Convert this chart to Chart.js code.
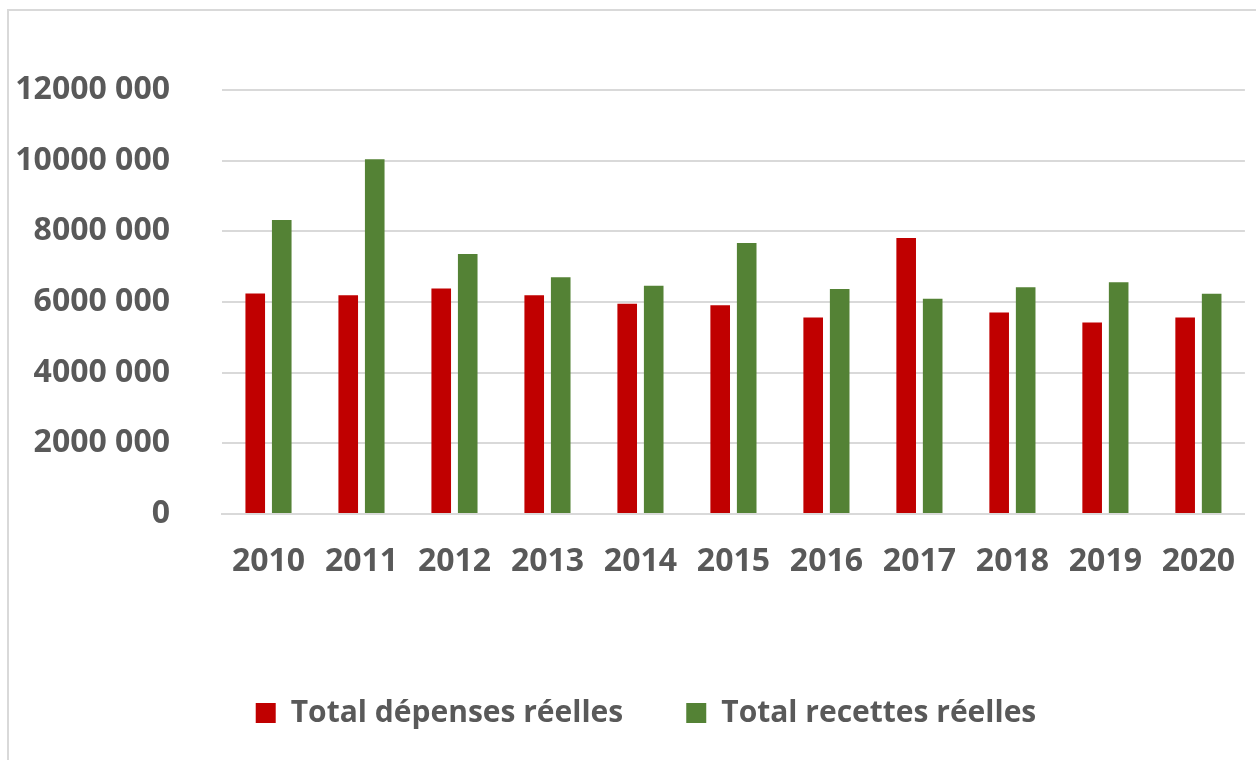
<!DOCTYPE html>
<html>
<head>
<meta charset="utf-8">
<script src="https://cdn.jsdelivr.net/npm/chart.js@4"></script>
<style>
  html, body { margin: 0; padding: 0; background: #fff; overflow: hidden; }
  #cadre {
    position: absolute; left: 7px; top: 9px; width: 1400px; height: 900px;
    border: 2px solid #d9d9d9; box-sizing: border-box;
  }
  #zone { position: absolute; left: 0; top: 0; width: 1256px; height: 760px; }
</style>
</head>
<body>
<div id="cadre"></div>
<div id="zone"><canvas id="graphique" width="1256" height="760"></canvas></div>
<script>
const annees = ["2010", "2011", "2012", "2013", "2014", "2015", "2016", "2017", "2018", "2019", "2020"];
const depensesReelles = [6240000, 6190000, 6380000, 6190000, 5950000, 5910000, 5560000, 7810000, 5700000, 5420000, 5560000];
const recettesReelles = [8320000, 10040000, 7360000, 6700000, 6460000, 7670000, 6370000, 6090000, 6420000, 6560000, 6230000];
const maxAxe = 12000000;
const pasAxe = 2000000;

const gris = "#595959";
const familles = "'Open Sans', 'Noto Sans', sans-serif";
const policeAxes = { family: familles, size: 32, weight: "bold" };
const policeLegende = { family: familles, size: 30, weight: "bold" };

// la légende d'Excel est centrée sur un cadre plus large que l'image
const decaleLegende = {
  id: "decaleLegende",
  afterLayout(chart) {
    chart.legend.left += 18;
    chart.legend.right += 18;
  },
};

const ctx = document.getElementById("graphique").getContext("2d");

const graphique = new Chart(ctx, {
  type: "bar",
  data: {
    labels: annees,
    datasets: [
      {
        label: "Total dépenses réelles",
        data: depensesReelles,
        backgroundColor: "#c00000",
        categoryPercentage: 0.57,
        barPercentage: 0.74,
      },
      {
        label: "Total recettes réelles",
        data: recettesReelles,
        backgroundColor: "#548235",
        categoryPercentage: 0.57,
        barPercentage: 0.74,
      },
    ],
  },
  options: {
    responsive: false,
    animation: false,
    layout: { padding: { top: 90, right: 0, bottom: 22, left: 0 } },
    plugins: {
      legend: {
        position: "bottom",
        labels: {
          color: gris,
          font: policeLegende,
          boxWidth: 20,
          boxHeight: 20,
          padding: 63,
        },
      },
      tooltip: { enabled: false },
    },
    scales: {
      x: {
        grid: { display: false },
        border: { color: "#d9d9d9", width: 2 },
        ticks: { color: gris, font: policeAxes, padding: 21 },
        afterFit: (scale) => { scale.height = 121; },
      },
      y: {
        min: 0,
        max: maxAxe,
        border: { display: false },
        grid: { color: "#d9d9d9", lineWidth: 2, drawTicks: false },
        ticks: {
          stepSize: pasAxe,
          color: gris,
          font: policeAxes,
          padding: 52,
          callback: (v) => (v === 0 ? "0" : v / 1000 + " 000"),
        },
        afterFit: (scale) => { scale.width = 222; },
      },
    },
  },
  plugins: [decaleLegende],
});
</script>
</body>
</html>
